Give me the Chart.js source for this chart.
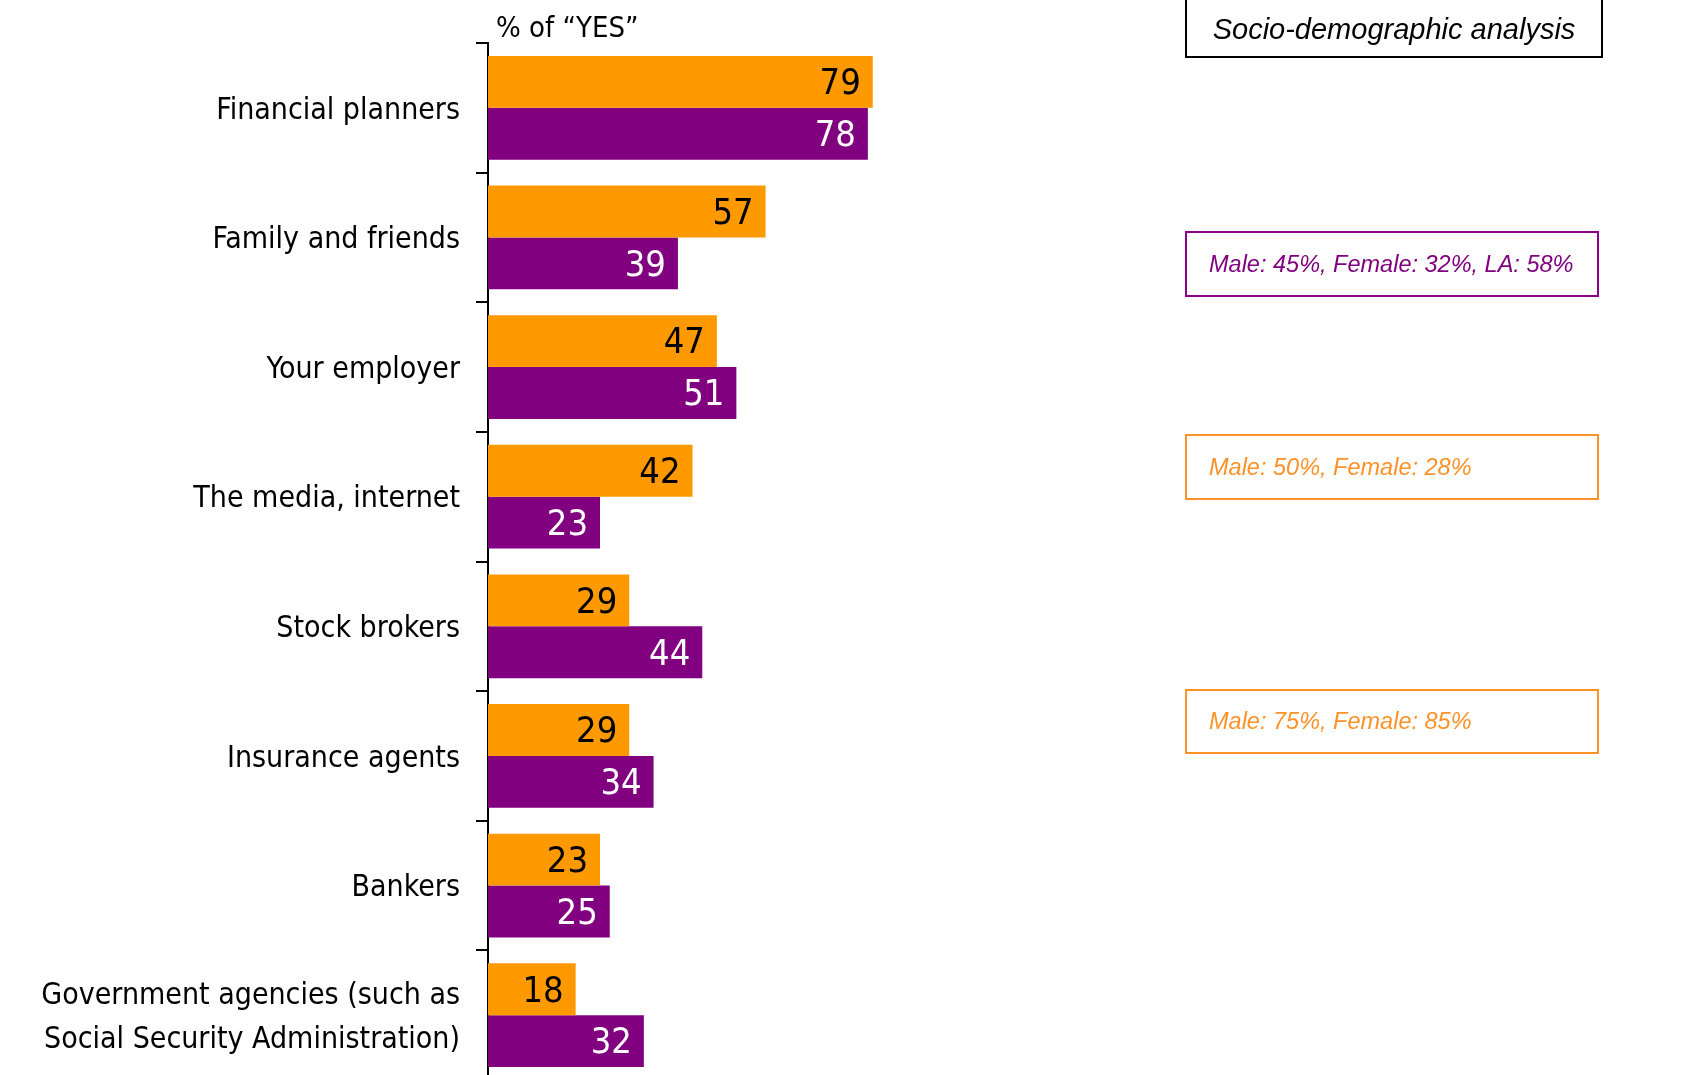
<!DOCTYPE html>
<html>
<head>
<meta charset="utf-8">
<script src="https://cdn.jsdelivr.net/npm/chart.js@4.4.1/dist/chart.umd.min.js"></script>
<style>
  html, body { margin:0; padding:0; background:#fff; overflow:hidden; width:1697px; height:1075px; }
  #wrap { position:relative; width:1697px; height:1075px; }
  canvas { position:absolute; left:0; top:0; }
  .ttl { position:absolute; left:496px; top:10px; font-family:"Liberation Sans Narrow","DejaVu Sans Condensed",sans-serif; font-size:29px; color:#000; white-space:nowrap; }
  .box { position:absolute; box-sizing:border-box; font-family:"Liberation Sans",Arial,sans-serif; font-style:italic; white-space:nowrap; display:flex; align-items:center; }
</style>
</head>
<body>
<div id="wrap">
  <canvas id="c" width="1697" height="1080"></canvas>
  <div class="ttl">% of “YES”</div>
  <div class="box" id="b0" style="left:1185px; top:-3px; width:418px; height:61px; border:2px solid #000; color:#000; font-size:29px; justify-content:center; padding-top:4px;"></div>
  <div class="box" id="b1" style="left:1185px; top:231px; width:414px; height:66px; border:2px solid #8B008B; color:#800080; font-size:23.5px; padding-left:22px;"></div>
  <div class="box" id="b2" style="left:1185px; top:434px; width:414px; height:66px; border:2px solid #FF9128; color:#FF9128; font-size:23.5px; padding-left:22px;"></div>
  <div class="box" id="b3" style="left:1185px; top:689px; width:414px; height:65px; border:2px solid #FF9128; color:#FF9128; font-size:23.5px; padding-left:22px;"></div>
</div>
<script>
const categories = [
  "Financial planners",
  "Family and friends",
  "Your employer",
  "The media, internet",
  "Stock brokers",
  "Insurance agents",
  "Bankers",
  ["Government agencies (such as", "Social Security Administration)"]
];
const seriesOrange = [79, 57, 47, 42, 29, 29, 23, 18];
const seriesPurple = [78, 39, 51, 23, 44, 34, 25, 32];
const axisTitle = "% of “YES”";
const boxTitle = "Socio-demographic analysis";
const notes = [
  "Male: 45%, Female: 32%, LA: 58%",
  "Male: 50%, Female: 28%",
  "Male: 75%, Female: 85%"
];

document.querySelector('.ttl').textContent = axisTitle;
document.getElementById('b0').textContent = boxTitle;
document.getElementById('b1').textContent = notes[0];
document.getElementById('b2').textContent = notes[1];
document.getElementById('b3').textContent = notes[2];

const FONT = '"Liberation Sans Narrow","DejaVu Sans Condensed",sans-serif';

const valueLabels = {
  id: 'valueLabels',
  afterDatasetsDraw(chart) {
    const ctx = chart.ctx;
    ctx.save();
    ctx.font = '36px ' + FONT;
    ctx.textAlign = 'right';
    ctx.textBaseline = 'middle';
    chart.data.datasets.forEach((ds, di) => {
      const meta = chart.getDatasetMeta(di);
      meta.data.forEach((bar, i) => {
        ctx.fillStyle = di === 0 ? '#000' : '#fff';
        ctx.fillText(String(ds.data[i]), bar.x - 12, bar.y + 3);
      });
    });
    ctx.restore();
  }
};

new Chart(document.getElementById('c'), {
  type: 'bar',
  data: {
    labels: categories,
    datasets: [
      { label: 'A', data: seriesOrange, backgroundColor: '#FF9900', borderWidth: 0 },
      { label: 'B', data: seriesPurple, backgroundColor: '#800080', borderWidth: 0 }
    ]
  },
  options: {
    indexAxis: 'y',
    responsive: false,
    animation: false,
    devicePixelRatio: 1,
    layout: { padding: { top: 43, right: 722, bottom: 0, left: 0 } },
    categoryPercentage: 0.8,
    barPercentage: 1.0,
    plugins: { legend: { display: false }, tooltip: { enabled: false } },
    scales: {
      x: { display: false, min: 0, max: 100 },
      y: {
        offset: true,
        border: { display: true, color: '#000', width: 2 },
        grid: { display: true, drawOnChartArea: false, drawTicks: true, tickLength: 12, color: '#000', lineWidth: 2, offset: true },
        ticks: { color: '#000', padding: 16, labelOffset: 3, font: { family: FONT, size: 30, lineHeight: 1.45 } },
        afterFit(scale) { scale.width = 488; scale.paddingTop = 0; scale.paddingBottom = 0; }
      }
    }
  },
  plugins: [valueLabels]
});
</script>
</body>
</html>
